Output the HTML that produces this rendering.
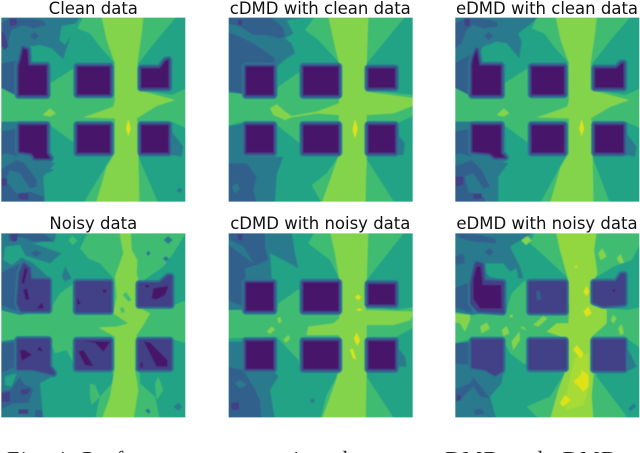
<!DOCTYPE html>
<html lang="en">
<head>
<meta charset="utf-8">
<title>Clean and noisy data contour comparison</title>
<style>
html,body{margin:0;padding:0;background:#fff;width:640px;height:453px;overflow:hidden}
svg{display:block}
</style>
</head>
<body>
<svg id="figure" xmlns="http://www.w3.org/2000/svg" width="640" height="453" viewBox="0 0 640 453">
<defs><filter id="soft" x="-5%" y="-5%" width="110%" height="110%"><feGaussianBlur stdDeviation="0.45"/></filter></defs>
<text x="7" y="466.5" font-family="'Liberation Serif',serif" font-size="22" fill="#222" textLength="610" lengthAdjust="spacing">Fig. 4: Performance comparison between cDMD and eDMD</text>
</svg>
<script>
const levelColors = ["#46156a","#433f86","#33618d","#2a7a8e","#20a386","#40bc72","#84d44b","#a8db34","#dfe318","#93d741"];
const panelTitles = ["Clean data","cDMD with clean data","eDMD with clean data","Noisy data","cDMD with noisy data","eDMD with noisy data"];

const cleanRegions = [
[5,"250,50 232,85 270,100 300,140 345,190 230,200 150,250 60,290 0,262 0,365 60,365 150,375 225,430 240,465 335,470 250,610 475,610 415,470 420,370 515,365 560,385 560,265 515,285 420,270 415,190 470,120 530,50"],
[6,"305,50 430,50 425,100 412,190 412,270 525,300 470,318 410,355 412,365 415,470 418,610 288,610 320,500 345,460 345,355 250,352 300,335 340,320 345,300 345,190 320,120"],
[8,"385,358 392,385 385,408 378,385"],
[6,"128,345 150,325 168,340 150,350"],
[3,"0,50 240,50 228,70 185,78 178,120 195,135 212,110 198,150 190,178 155,145 120,135 90,140 60,190 145,190 150,250 60,292 0,262"],
[2,"0,70 30,55 90,55 130,62 140,75 100,85 70,75 35,90 22,135 0,145"],
[2,"90,108 103,95 118,108 103,120"],
[2,"0,190 60,180 60,292 0,262"],
[1,"4,90 12,100 25,140 12,150 4,130"],
[1,"28,55 50,55 50,75 30,78"],
[3,"0,365 60,365 60,450 130,480 165,490 130,530 135,610 0,610"],
[2,"0,395 55,385 55,470 20,460 0,465"],
[3,"130,510 145,503 162,510 145,520"],
[2,"0,510 50,480 75,490 110,540 110,560 90,565 60,520 30,510 15,540 50,580 90,575 130,590 132,610 0,610"],
[1,"4,535 22,535 20,555 4,560"],
[1,"55,580 85,580 85,600 55,597"],
[3,"515,395 550,440 545,470 515,465"],
[3,"530,572 540,562 548,570 538,580"]
];
const cleanBlocks = [
"56,197 62,180 70,145 82,150 85,197 140,197 140,285 56,285",
"232,200 330,200 330,283 232,283",
"424,205 480,205 497,182 505,180 505,263 424,263",
"58,375 140,375 140,460 150,475 105,475 95,460 58,455",
"232,375 330,375 330,458 232,458",
"424,375 505,375 505,458 424,458"
];

const cdmdCleanRegions = [
[5,"285,50 255,90 295,120 360,190 240,215 175,260 165,290 26,278 20,378 70,365 165,370 240,430 250,465 355,470 320,520 275,555 305,610 525,610 435,470 440,370 530,370 585,345 585,285 530,280 440,270 440,190 555,50"],
[6,"325,50 445,50 440,190 437,275 585,295 585,315 520,340 440,345 440,470 436,610 305,610 355,470 357,345 290,340 215,352 195,360 160,345 150,325 170,313 195,335 215,348 290,335 357,310 357,190 345,140"],
[8,"405,357 413,385 405,415 398,390"],
[3,"20,50 270,50 200,60 220,100 195,115 215,130 225,160 200,175 172,200 172,285 26,278"],
[2,"20,50 155,50 190,85 195,110 175,115 140,105 100,105 60,80 20,70"],
[2,"20,95 60,110 100,130 130,150 165,175 172,285 75,285 20,270"],
[1,"52,60 68,60 65,75 55,75"],
[3,"20,380 70,370 70,470 190,470 170,525 165,610 20,610"],
[2,"20,490 80,490 110,530 100,570 110,610 20,610"],
[3,"35,560 50,550 60,565 45,580"],
[3,"530,400 555,430 550,465 530,465"]
];
const cdmdCleanBlocks = [
"78,200 160,200 160,285 78,285",
"250,200 355,200 355,285 250,285",
"445,205 525,205 525,263 445,263",
"78,375 160,375 160,458 78,458",
"250,375 355,375 355,458 250,458",
"445,375 525,375 525,458 445,458"
];

const edmdCleanRegions = [
[5,"292,50 275,85 312,100 342,140 387,190 272,200 192,250 102,290 42,262 42,365 102,365 192,375 267,430 282,465 377,470 300,610 510,610 457,470 462,370 557,365 602,385 602,265 557,285 462,270 457,190 512,120 572,50"],
[6,"347,50 470,50 465,100 452,190 452,270 568,300 512,320 452,355 455,365 458,470 460,610 330,610 362,500 387,460 387,355 290,352 342,335 382,320 387,300 387,190 362,120"],
[8,"425,358 432,385 425,408 418,385"],
[6,"170,345 192,325 208,340 190,350"],
[3,"42,50 295,50 275,70 235,100 245,125 238,175 200,130 170,125 130,140 100,190 190,190 192,250 102,290 42,262"],
[2,"42,70 75,55 130,55 170,65 175,80 130,85 100,75 80,90 65,130 42,145"],
[2,"132,108 146,95 160,108 146,120"],
[2,"42,190 100,160 100,292 42,262"],
[1,"72,55 90,55 90,78 75,78"],
[3,"42,365 100,365 100,450 170,480 205,490 175,530 175,610 42,610"],
[2,"42,395 95,385 95,470 60,460 42,465"],
[2,"42,500 95,480 125,510 150,560 130,565 100,520 75,530 85,575 130,590 140,610 42,610"],
[1,"46,530 70,530 70,555 46,560"],
[1,"100,580 125,580 125,597 100,597"],
[3,"555,395 590,440 585,470 555,465"]
];
const edmdCleanBlocks = [
"96,197 100,175 110,150 115,180 118,197 183,197 183,285 96,285",
"275,200 372,200 372,283 275,283",
"465,205 530,205 545,190 550,190 550,263 465,263",
"97,375 183,375 183,460 195,472 165,472 150,460 97,455",
"275,375 372,375 372,458 275,458",
"465,375 550,375 550,458 465,458"
];

const noisyRegions = [
[5,"265,65 240,115 265,145 300,160 345,210 230,215 180,250 150,300 60,315 0,300 0,395 60,385 150,390 165,430 200,420 225,470 335,480 345,510 300,560 285,630 480,630 465,560 420,520 415,390 510,385 560,400 560,270 510,290 420,290 425,215 490,170 520,130 560,65"],
[6,"358,65 392,65 395,120 412,150 410,190 420,230 410,260 430,300 450,310 430,345 410,375 345,380 295,352 350,350 385,340 340,310 350,260 345,200 370,130"],
[6,"345,375 410,370 405,480 415,540 400,630 305,630 330,560 345,470"],
[3,"0,65 170,65 165,90 100,100 185,130 150,160 70,135 60,140 100,160 150,205 150,300 60,315 0,300"],
[4,"15,110 60,105 75,135 35,165 10,150"],
[2,"25,70 130,70 165,95 100,95 60,80 25,95"],
[2,"0,190 60,160 60,305 0,285"],
[2,"90,130 108,120 125,130 108,140"],
[3,"185,200 195,170 215,205 195,215"],
[1,"30,72 55,72 50,95 35,95"],
[5,"205,90 218,78 232,92 218,105"],
[5,"318,95 328,78 340,95 328,112"],
[5,"320,145 330,135 342,148 330,158"],
[5,"368,255 378,245 395,270 385,275"],
[5,"360,295 368,290 375,305 365,310"],
[3,"490,90 505,78 518,90 505,102"],
[3,"488,145 498,138 508,148 498,155"],
[3,"438,130 445,122 452,130 445,138"],
[3,"520,590 535,578 546,590 535,602"],
[3,"435,602 445,595 452,605 445,612"],
[3,"0,395 60,385 60,480 130,480 165,495 120,520 130,630 0,630"],
[2,"0,400 50,395 50,470 0,490"],
[2,"0,545 30,540 60,500 100,540 85,580 40,580 0,600"],
[4,"15,500 50,490 35,530 15,525"],
[3,"60,505 75,500 95,530 75,525"],
[1,"4,550 30,545 30,575 4,575"],
[1,"55,598 85,598 85,612 55,612"],
[1,"60,540 90,535 85,550 65,555"],
[2,"105,600 125,600 130,622 105,622"],
[5,"270,520 285,525 300,560 275,585 270,560"],
[5,"465,520 475,500 490,540 470,570"]
];
const noisyBlocks = [
"60,215 62,190 72,165 85,175 90,212 145,212 145,300 65,300 55,280",
"230,218 330,218 330,303 230,303",
"418,222 480,222 505,200 512,200 512,285 418,285",
"55,390 145,390 145,470 160,490 100,475 55,475",
"230,392 330,392 330,475 230,475",
"418,392 510,392 510,475 418,475"
];
const noisyPatches = [
"65,218 75,172 82,180 72,222","70,240 80,235 88,268 78,270","112,295 125,278 132,295",
"60,420 75,420 95,435 65,452","112,420 120,410 128,425","235,425 250,420 280,468 255,465",
"250,393 330,395 310,425 285,398","310,238 318,238 318,248 308,248","232,262 242,280 232,285",
"455,265 460,235 505,228 495,255 470,268","435,225 448,225 445,232 438,232",
"432,395 450,398 502,450 502,470 470,470","422,458 428,458 428,472 422,472"
];

const cdmdNoisyRegions = [
[5,"285,65 265,100 330,150 360,210 240,235 175,280 170,300 20,300 20,385 170,380 235,450 240,480 355,485 345,510 320,555 300,630 525,630 440,500 440,385 530,380 585,350 585,290 530,300 440,290 440,210 555,65"],
[6,"330,65 445,65 440,210 437,300 580,305 572,330 520,345 440,345 440,470 437,630 305,630 345,520 358,480 358,375 260,375 265,350 340,340 358,325 358,210 345,130"],
[8,"405,262 415,253 423,262 415,270"],
[8,"408,298 418,295 428,300 418,303"],
[8,"402,385 410,368 420,390 412,408"],
[8,"390,420 398,415 408,448 400,445"],
[6,"140,365 155,350 165,358 150,372"],
[6,"190,390 205,375 210,385 198,398"],
[6,"172,325 180,320 185,335 176,340"],
[3,"20,65 215,65 225,130 235,175 190,150 150,130 155,200 170,300 20,300"],
[2,"20,65 135,65 135,110 145,150 110,165 75,175 78,210 70,290 20,270"],
[3,"20,85 70,110 100,160 60,130 20,100"],
[1,"50,72 70,72 65,92 55,90"],
[3,"20,395 70,395 70,480 160,480 175,500 150,540 165,630 20,630"],
[2,"20,470 70,480 100,530 120,570 125,630 20,630"],
[3,"45,520 60,510 80,525 60,535"],
[1,"32,580 55,575 58,600 35,600"],
[3,"270,570 280,565 285,575 275,580"],
[3,"530,410 555,440 560,470 530,470"]
];
const cdmdNoisyBlocks = [
"78,218 160,218 160,302 78,302",
"250,218 355,218 355,303 250,303",
"445,222 525,222 525,283 445,283",
"78,393 160,393 160,477 78,477",
"250,393 355,393 355,477 250,477",
"445,393 525,393 525,477 445,477"
];

const edmdNoisyRegions = [
[5,"285,65 270,100 310,135 385,205 250,215 215,250 200,300 96,315 40,305 40,400 100,385 195,400 210,430 250,460 375,490 330,560 260,590 300,630 500,630 560,620 470,500 460,390 560,385 610,420 610,290 560,300 455,290 455,210 520,170 575,150 610,85 610,60"],
[9,"348,65 470,65 462,120 472,190 460,215 500,300 500,340 455,380 462,480 455,560 460,630 330,630 355,540 378,480 380,385 320,365 350,340 385,340 388,300 385,210 360,120"],
[7,"405,440 445,430 450,520 430,585 378,600 382,540"],
[8,"400,420 410,405 430,430 422,445"],
[8,"400,515 412,505 425,490 425,480 445,495 445,530 430,545 412,525"],
[8,"360,580 375,555 392,570 370,590"],
[8,"430,245 440,228 448,245 440,258"],
[8,"430,305 445,290 455,310 440,320"],
[8,"405,170 410,165 412,172 406,174"],
[6,"40,310 90,315 90,330 75,365 60,340 40,335"],
[6,"120,350 140,338 150,355 125,370"],
[6,"185,360 200,348 208,370 190,378"],
[6,"215,395 238,365 240,390 220,420"],
[6,"280,345 310,318 322,325 295,350"],
[6,"240,352 250,350 260,362"],
[6,"210,315 218,315 218,322 210,322"],
[6,"512,330 520,315 530,325 520,340"],
[6,"535,355 545,342 552,370 540,375"],
[6,"244,92 260,75 275,92 258,105"],
[6,"475,130 487,115 500,140 482,150"],
[6,"530,145 542,132 552,158 540,160"],
[3,"40,65 285,65 210,110 240,170 210,185 190,160 100,160 150,200 190,210 195,300 96,315 40,305"],
[2,"40,65 100,70 165,85 170,100 100,95 60,85"],
[2,"40,235 95,215 95,310 40,290"],
[2,"133,125 148,115 162,125 148,138"],
[2,"40,140 70,130 75,160 40,165"],
[3,"230,175 240,170 250,205 235,205"],
[3,"40,400 100,400 100,480 190,490 185,520 150,560 170,630 40,630"],
[2,"40,400 95,395 95,465 40,460"],
[2,"40,540 90,520 100,500 150,565 120,560 100,530 80,550 60,570 40,580"],
[1,"50,555 62,555 62,572 50,572"],
[2,"100,600 125,595 135,612 105,615"],
[3,"565,595 582,580 588,590 570,605"],
[3,"565,420 590,470 560,485"]
];
const edmdNoisyBlocks = [
"96,225 100,200 110,160 125,165 130,215 188,218 188,305 115,300 96,280",
"270,218 375,218 375,305 270,305",
"462,218 530,218 545,195 552,195 552,280 490,285 462,275",
"98,392 185,392 185,480 165,492 135,475 98,470",
"270,392 375,392 375,475 270,475",
"462,392 552,392 552,478 462,478"
];
const edmdNoisyPatches = [
"100,210 110,170 122,170 128,225 183,225 185,295 120,295 100,265",
"518,240 525,238 525,245 518,245"
];
const noHoles = [];
const edmdNoisyHoles = ["288,245 298,240 305,268 290,270"];

/* Panel frames: the field coordinates each panel's contours are expressed in */
const panelSize = 184;
const domainSpan = 552;
const panels = [
  {left:1.33,  top:17.67,  dx:4,  dy:53, titleX:93.3,  titleY:14,  regions:cleanRegions,     blocks:cleanBlocks,     base:0, patches:[],             holes:noHoles},
  {left:228.67,top:17.67,  dx:26, dy:53, titleX:320.3, titleY:14,  regions:cdmdCleanRegions, blocks:cdmdCleanBlocks, base:0, patches:[],             holes:noHoles},
  {left:455.33,top:17.67,  dx:46, dy:53, titleX:547,   titleY:14,  regions:edmdCleanRegions, blocks:edmdCleanBlocks, base:0, patches:[],             holes:noHoles},
  {left:1.33,  top:233.33, dx:4,  dy:70, titleX:93.3,  titleY:229, regions:noisyRegions,     blocks:noisyBlocks,     base:1, patches:noisyPatches,   holes:noHoles},
  {left:228.67,top:233.33, dx:26, dy:70, titleX:320.3, titleY:229, regions:cdmdNoisyRegions, blocks:cdmdNoisyBlocks, base:0, patches:[],             holes:noHoles},
  {left:455.33,top:233.33, dx:46, dy:70, titleX:547,   titleY:229, regions:edmdNoisyRegions, blocks:edmdNoisyBlocks, base:1, patches:edmdNoisyPatches, holes:edmdNoisyHoles}
];

const NS = "http://www.w3.org/2000/svg";
const svg = document.getElementById("figure");
const defs = svg.querySelector("defs");

function xScale(p, v){ return p.left + (v - p.dx) * panelSize / domainSpan; }
function yScale(p, v){ return p.top + (v - p.dy) * panelSize / domainSpan; }
function toPoints(p, str){
  return str.trim().split(/\s+/).map(function(pair){
    const c = pair.split(",");
    return xScale(p, +c[0]).toFixed(2) + "," + yScale(p, +c[1]).toFixed(2);
  }).join(" ");
}
function polygon(parent, p, str, level){
  const el = document.createElementNS(NS, "polygon");
  el.setAttribute("points", toPoints(p, str));
  el.setAttribute("fill", levelColors[level]);
  parent.appendChild(el);
  return el;
}

panels.forEach(function(p, i){
  const clip = document.createElementNS(NS, "clipPath");
  clip.setAttribute("id", "clip" + i);
  const clipRect = document.createElementNS(NS, "rect");
  clipRect.setAttribute("x", p.left);
  clipRect.setAttribute("y", p.top);
  clipRect.setAttribute("width", panelSize);
  clipRect.setAttribute("height", panelSize);
  clip.appendChild(clipRect);
  defs.appendChild(clip);

  const title = document.createElementNS(NS, "text");
  
  
  title.setAttribute("x", p.titleX);
  title.setAttribute("y", p.titleY);
  title.setAttribute("text-anchor", "middle");
  title.setAttribute("font-family", "'DejaVu Sans',sans-serif");
  title.setAttribute("font-size", "16.5");
  title.setAttribute("fill", "#111");
  title.textContent = panelTitles[i];
  svg.appendChild(title);

  const outer = document.createElementNS(NS, "g");
  
  
  outer.setAttribute("clip-path", "url(#clip" + i + ")");
  svg.appendChild(outer);

  const g = document.createElementNS(NS, "g");
  g.setAttribute("filter", "url(#soft)");
  outer.appendChild(g);

  const bg = document.createElementNS(NS, "rect");
  
  
  bg.setAttribute("x", p.left - 2);
  bg.setAttribute("y", p.top - 2);
  bg.setAttribute("width", panelSize + 4);
  bg.setAttribute("height", panelSize + 4);
  bg.setAttribute("fill", levelColors[4]);
  g.appendChild(bg);

  p.regions.forEach(function(r){
    const el = polygon(g, p, r[1], r[0]);
    
    
  });

  p.blocks.forEach(function(b){
    [[3, 8], [2, 5.4], [1, 2.8]].forEach(function(ring){
      const el = polygon(g, p, b, ring[0]);
      
      
      el.setAttribute("stroke", levelColors[ring[0]]);
      el.setAttribute("stroke-width", ring[1]);
      el.setAttribute("stroke-linejoin", "round");
    });
    const core = polygon(g, p, b, p.base);
    
    
  });

  p.patches.forEach(function(s){
    const el = polygon(g, p, s, 0);
    
    
  });

  p.holes.forEach(function(s){
    const el = polygon(g, p, s, 2);
    
    
  });
});
</script>
</body>
</html>
